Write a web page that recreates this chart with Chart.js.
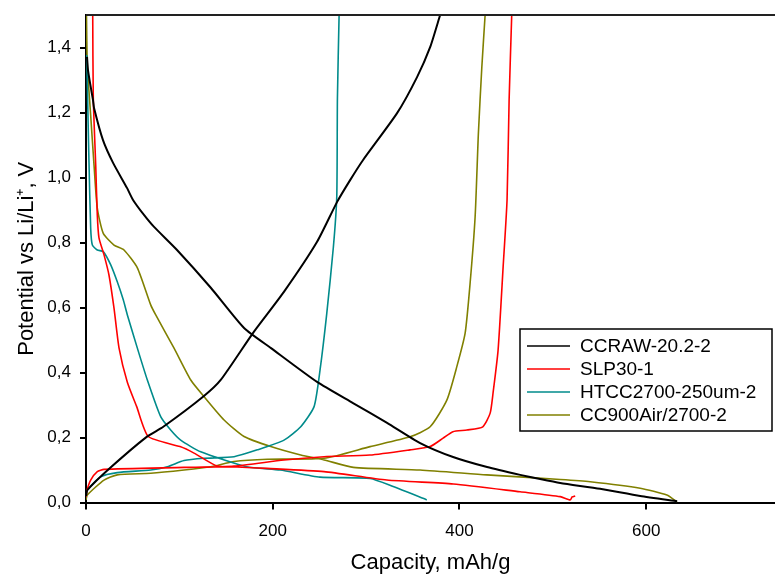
<!DOCTYPE html>
<html>
<head>
<meta charset="utf-8">
<script src="https://cdn.jsdelivr.net/npm/chart.js@4/dist/chart.umd.min.js"></script>
<style>
  html, body { margin: 0; padding: 0; background: #fff; overflow: hidden; }
  #wrap { width: 775px; height: 577px; }
</style>
</head>
<body>
<div id="wrap"><canvas id="chart" width="775" height="577"></canvas></div>
<script>
// valores (capacidade mAh/g, potencial V)
const labels = ["CCRAW-20.2-2", "SLP30-1", "HTCC2700-250um-2", "CC900Air/2700-2"];
const colors = ["#000000", "#ff0000", "#008b8b", "#808000"];

const ccrawDisCap = [1.1, 2.1, 4.3, 7.5, 8.6, 18.2, 29, 43.9, 50.4, 62.1, 72.9, 97.5, 133.9, 169.3, 198.2, 247.5, 286, 322.5, 357.9, 393.2, 429.6, 465, 486.4, 507.9, 550.7, 593.6, 633.2];
const ccrawDisV   = [1.371, 1.331, 1.291, 1.238, 1.214, 1.115, 1.045, 0.968, 0.931, 0.885, 0.848, 0.777, 0.660, 0.537, 0.475, 0.371, 0.306, 0.245, 0.183, 0.140, 0.109, 0.085, 0.072, 0.060, 0.042, 0.020, 0.004];
const ccrawChgCap = [0, 1.4, 25.7, 65, 82.8, 125.7, 144.3, 179, 212, 247.5, 269, 282.9, 296.8, 333.2, 354.6, 368.6, 379.3];
const ccrawChgV   = [0.02, 0.038, 0.106, 0.202, 0.233, 0.326, 0.377, 0.522, 0.648, 0.802, 0.925, 0.992, 1.054, 1.198, 1.309, 1.401, 1.5];

const slpDisCap = [7.2, 7.8, 10.4, 12.1, 13.9, 19.3, 24.6, 30, 35.4, 44.2, 54.3, 66.8, 100.7, 115.7, 140.4, 161.8, 194, 255, 322.2, 393.5, 465, 508, 518.6, 520.7, 524];
const slpDisV   = [1.5, 1.245, 1.038, 0.885, 0.814, 0.762, 0.7, 0.598, 0.475, 0.371, 0.295, 0.203, 0.172, 0.152, 0.112, 0.109, 0.105, 0.095, 0.069, 0.057, 0.033, 0.018, 0.008, 0.017, 0.02];
const slpChgCap = [0, 1.1, 5, 12.1, 19.3, 105, 158.6, 212, 255, 304, 347, 368.6, 382.5, 393, 408, 425, 432.9, 436, 441.4, 446.8, 451, 453.2, 456];
const slpChgV   = [0.017, 0.038, 0.069, 0.095, 0.102, 0.108, 0.112, 0.131, 0.141, 0.146, 0.162, 0.172, 0.198, 0.218, 0.223, 0.233, 0.275, 0.337, 0.469, 0.725, 0.931, 1.238, 1.5];

const htccDisCap = [0.8, 2.1, 3.2, 5, 6.8, 12.1, 18.5, 26.5, 33.5, 40, 44.3, 55, 65.7, 80, 90.7, 101.4, 122.9, 172.2, 207.9, 250.7, 304.3, 329, 365];
const htccDisV   = [1.377, 1.192, 1.048, 0.845, 0.792, 0.777, 0.772, 0.731, 0.679, 0.623, 0.577, 0.475, 0.377, 0.264, 0.223, 0.192, 0.156, 0.110, 0.100, 0.078, 0.074, 0.049, 0.008];
const htccChgCap = [0, 1.4, 15.7, 33.5, 69.3, 87.1, 105, 126.4, 158.6, 183.5, 212.1, 230, 244.3, 250.7, 257.9, 265, 268.6, 269.3, 271.1];
const htccChgV   = [0.017, 0.038, 0.079, 0.092, 0.1, 0.11, 0.129, 0.136, 0.141, 0.162, 0.192, 0.233, 0.295, 0.408, 0.582, 0.787, 0.941, 1.244, 1.5];

const cc900DisCap = [0.5, 1.4, 5, 8.6, 12.1, 18.5, 30, 40.7, 55, 69.3, 74.7, 94.3, 112.2, 126.4, 147.9, 169.3, 197.9, 230, 255, 286.4, 357.9, 429.3, 508, 540, 593.6, 622.2, 633];
const cc900DisV   = [1.5, 1.346, 1.192, 1.038, 0.906, 0.828, 0.792, 0.777, 0.722, 0.608, 0.577, 0.475, 0.377, 0.326, 0.254, 0.203, 0.172, 0.146, 0.131, 0.108, 0.1, 0.085, 0.071, 0.064, 0.044, 0.023, 0.002];
const cc900ChgCap = [0, 1.4, 19.3, 33.5, 69.3, 105, 133.6, 158.6, 194.3, 255, 304.3, 347.1, 368.6, 386.5, 397.2, 406.1, 411.4, 416.8, 420.3, 424, 427.5];
const cc900ChgV   = [0.008, 0.023, 0.069, 0.085, 0.09, 0.1, 0.11, 0.126, 0.133, 0.136, 0.172, 0.202, 0.233, 0.315, 0.418, 0.521, 0.674, 0.879, 1.136, 1.341, 1.5];

const xTicks = [0, 200, 400, 600];
const yTicks = [0, 0.2, 0.4, 0.6, 0.8, 1.0, 1.2, 1.4];

// junta descarga + carga com um buraco no meio
function curva(dc, dv, cc, cv) {
  const pts = dc.map((c, i) => ({ x: c, y: dv[i] }));
  pts.push({ x: dc[dc.length - 1], y: null });
  cc.forEach((c, i) => pts.push({ x: c, y: cv[i] }));
  return pts;
}

const series = [
  curva(ccrawDisCap, ccrawDisV, ccrawChgCap, ccrawChgV),
  curva(slpDisCap, slpDisV, slpChgCap, slpChgV),
  curva(htccDisCap, htccDisV, htccChgCap, htccChgV),
  curva(cc900DisCap, cc900DisV, cc900ChgCap, cc900ChgV)
];

const fonte = "'Liberation Sans', Arial, sans-serif";

// moldura de cima + legenda desenhada à mão
const extras = {
  id: 'extras',
  afterDraw(chart) {
    const c = chart.ctx, a = chart.chartArea;
    c.save();
    c.strokeStyle = '#222';
    c.lineWidth = 2;
    c.beginPath(); c.moveTo(a.left, a.top); c.lineTo(a.right + 2, a.top); c.stroke();

    // legenda
    const bx = 520, by = 329, bw = 252, bh = 102;
    c.fillStyle = '#fff';
    c.fillRect(bx, by, bw, bh);
    c.strokeStyle = '#000';
    c.lineWidth = 1.5;
    c.strokeRect(bx, by, bw, bh);
    c.font = '19px ' + fonte;
    c.textBaseline = 'middle';
    chart.data.datasets.forEach((ds, i) => {
      const y = by + 17 + i * 23;
      c.strokeStyle = ds.borderColor;
      c.lineWidth = 1.5;
      c.beginPath(); c.moveTo(527, y); c.lineTo(570, y); c.stroke();
      c.fillStyle = '#000';
      c.fillText(ds.label, 580, y + 1);
    });
    c.restore();
  }
};

new Chart(document.getElementById('chart'), {
  type: 'line',
  data: {
    datasets: series.map((d, i) => ({
      label: labels[i],
      data: d,
      borderColor: colors[i],
      borderWidth: i === 0 ? 2 : 1.6,
      pointRadius: 0,
      tension: 0.2,
      spanGaps: false
    }))
  },
  options: {
    responsive: false,
    animation: false,
    devicePixelRatio: 1,
    layout: { padding: { top: 15, right: 0, left: 0, bottom: 0 } },
    plugins: { legend: { display: false }, tooltip: { enabled: false } },
    scales: {
      x: {
        type: 'linear',
        min: 0, max: 738,
        afterFit: s => { s.height = 74.5; s.paddingLeft = 0; s.paddingRight = 0; },
        afterBuildTicks: s => { s.ticks = xTicks.map(v => ({ value: v })); },
        border: { display: true, color: '#000', width: 2 },
        grid: { drawOnChartArea: false, drawTicks: true, tickLength: 7, color: '#000', lineWidth: 2 },
        ticks: { color: '#000', font: { family: fonte, size: 17 }, padding: 12, maxRotation: 0 },
        title: { display: true, text: 'Capacity, mAh/g', color: '#000', font: { family: fonte, size: 22, lineHeight: 1 }, padding: { top: 0, bottom: 3 } }
      },
      y: {
        type: 'linear',
        min: 0, max: 1.5,
        afterFit: s => { s.width = 86; s.paddingTop = 0; s.paddingBottom = 0; },
        afterBuildTicks: s => { s.ticks = yTicks.map(v => ({ value: v })); },
        border: { display: true, color: '#000', width: 2 },
        grid: { drawOnChartArea: false, drawTicks: true, tickLength: 6, color: '#000', lineWidth: 2 },
        ticks: { color: '#000', font: { family: fonte, size: 17 }, padding: 9, callback: v => v.toFixed(1).replace('.', ',') },
        title: { display: true, text: 'Potential vs Li/Li\u207A, V', color: '#000', font: { family: fonte, size: 22, lineHeight: 1 }, padding: { top: 16, bottom: 0 } }
      }
    }
  },
  plugins: [extras]
});
</script>
</body>
</html>
